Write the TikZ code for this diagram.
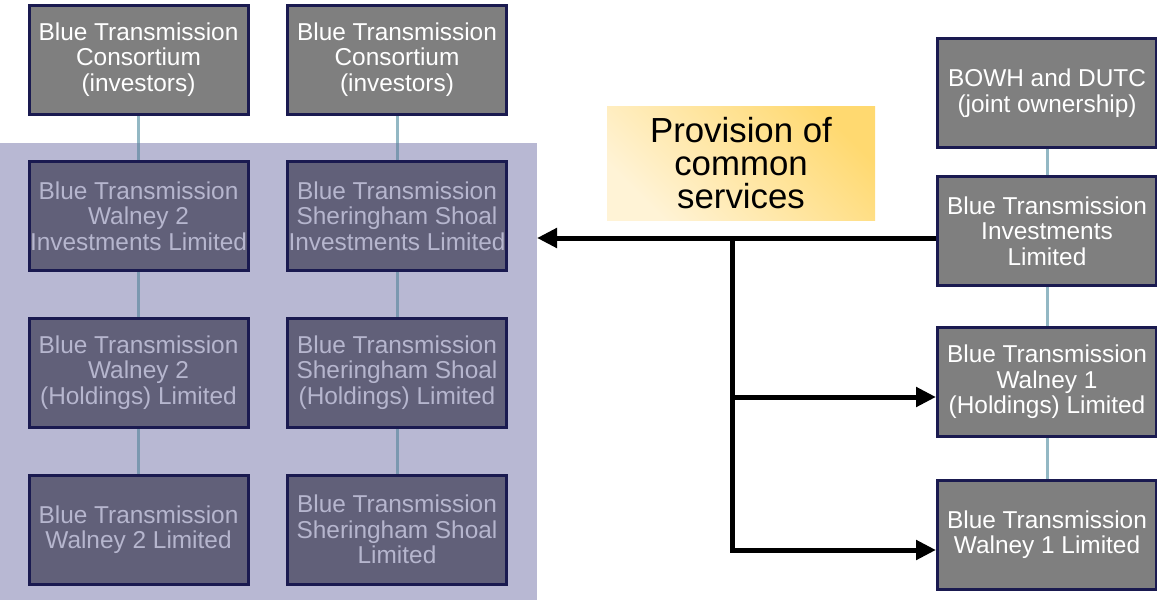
\documentclass[tikz,border=0pt]{standalone}
\usepackage{fontspec}
\setmainfont{Liberation Sans}
\usetikzlibrary{arrows.meta, backgrounds}

\begin{document}
\begin{tikzpicture}[x=1pt, y=-1pt,
  entity/.style={draw=navy, line width=3pt, fill=boxgray, text=white,
    minimum width=219pt, minimum height=109pt, inner xsep=0pt, align=center,
    font=\fontsize{24.4}{25.4}\selectfont},
  dimmed/.style={entity, fill=boxdim, text=textdim},
  link/.style={line width=3pt, linkteal},
  dimlink/.style={line width=3pt, linkdim},
  flow/.style={line width=5pt, line join=miter, -{Triangle[length=20pt, width=19pt]}}]

\definecolor{navy}{RGB}{26,26,80}
\definecolor{boxgray}{RGB}{127,127,127}
\definecolor{boxdim}{RGB}{97,96,121}
\definecolor{textdim}{RGB}{182,182,206}
\definecolor{bglav}{RGB}{184,184,211}
\definecolor{linkteal}{RGB}{147,184,196}
\definecolor{linkdim}{RGB}{123,152,176}
\definecolor{sunlight}{RGB}{255,217,112}
\definecolor{cream}{RGB}{255,243,214}

\useasboundingbox (0,0) rectangle (1157,600);
\coordinate (bgtop) at (0,143);
\coordinate (bgedge) at (537,238);

% investors on top
\node[entity] (bcw) at (138.5,59.5) {Blue Transmission\\Consortium\\(investors)};
\node[entity] (bcs) at (397,59.5) {Blue Transmission\\Consortium\\(investors)};

% walney 2 chain
\node[dimmed] (w2inv) at (138.5,216) {Blue Transmission\\Walney 2\\Investments Limited};
\node[dimmed] (w2hold) at (138.5,372.5) {Blue Transmission\\Walney 2\\(Holdings) Limited};
\node[dimmed] (w2ltd) at (138.5,529.5) {Blue Transmission\\Walney 2 Limited};

% sheringham shoal chain
\node[dimmed] (ssinv) at (397,216) {Blue Transmission\\Sheringham Shoal\\Investments Limited};
\node[dimmed] (sshold) at (397,372.5) {Blue Transmission\\Sheringham Shoal\\(Holdings) Limited};
\node[dimmed] (ssltd) at (397,529.5) {Blue Transmission\\Sheringham Shoal\\Limited};

% walney 1 chain
\node[entity] (owners) at (1047,93) {BOWH and DUTC\\(joint ownership)};
\node[entity] (bti) at (1047,231) {Blue Transmission\\Investments\\Limited};
\node[entity] (w1hold) at (1047,382) {Blue Transmission\\Walney 1\\(Holdings) Limited};
\node[entity] (w1ltd) at (1047,534.5) {Blue Transmission\\Walney 1 Limited};

\begin{scope}[on background layer]
% shared area of the two walney / sheringham chains
\fill[bglav] (bgtop) rectangle (537,600);
\draw[link] (bcw) -- (bcw |- bgtop);
\draw[dimlink] (bcw |- bgtop) -- (w2inv);
\draw[link] (bcs) -- (bcs |- bgtop);
\draw[dimlink] (bcs |- bgtop) -- (ssinv);
\draw[dimlink] (w2inv) -- (w2hold);
\draw[dimlink] (w2hold) -- (w2ltd);
\draw[dimlink] (ssinv) -- (sshold);
\draw[dimlink] (sshold) -- (ssltd);
\draw[link] (owners) -- (bti);
\draw[link] (bti) -- (w1hold);
\draw[link] (w1hold) -- (w1ltd);
\end{scope}

% common services
\node[left color=cream, right color=sunlight, shading angle=135,
  minimum width=268pt, minimum height=114pt, align=center,
  font=\fontsize{34.8}{33}\selectfont] (services) at (741,163)
  {Provision of\\common\\services};

\coordinate (hub) at (732,238);
\draw[flow] ([yshift=-7pt]bti.west) -- (bgedge);
\draw[flow] (hub) |- ([yshift=-15pt]w1hold.west);
\draw[flow] (hub) |- ([yshift=-15.5pt]w1ltd.west);

\end{tikzpicture}
\end{document}
